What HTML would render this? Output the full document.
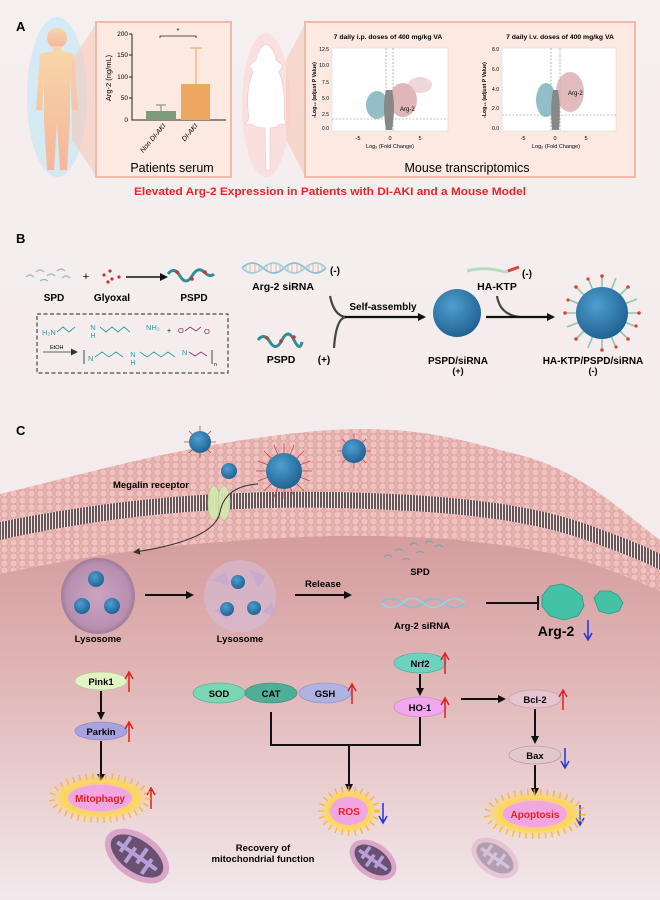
<!DOCTYPE html>
<html><head><meta charset="utf-8"><style>
html,body{margin:0;padding:0;background:#f6eeee}
svg{display:block}
text{font-family:"Liberation Sans",sans-serif}
.b{font-weight:bold}
</style></head><body>
<svg width="660" height="900" viewBox="0 0 660 900" xmlns="http://www.w3.org/2000/svg">
<defs>
<linearGradient id="bg" x1="0" y1="0" x2="0" y2="1">
<stop offset="0" stop-color="#f6efef"/><stop offset="1" stop-color="#f3eaea"/></linearGradient>
<linearGradient id="cell" x1="0" y1="0" x2="0" y2="1">
<stop offset="0" stop-color="#d49a9c"/><stop offset="0.45" stop-color="#e2b9ba"/><stop offset="1" stop-color="#f2e9ec"/></linearGradient>
<pattern id="heads" width="9" height="7" patternUnits="userSpaceOnUse">
<rect width="9" height="7" fill="#e6b1ae"/><circle cx="4.5" cy="3.5" r="3.6" fill="#f0c3c0" stroke="#d39c99" stroke-width="0.6"/></pattern>
<pattern id="tails" width="3" height="10" patternUnits="userSpaceOnUse">
<rect width="3" height="10" fill="#5a4a4c"/><line x1="1.5" y1="0" x2="1.5" y2="10" stroke="#f4eeee" stroke-width="1"/></pattern>
<radialGradient id="np" cx="0.4" cy="0.35" r="0.7"><stop offset="0" stop-color="#4f9fcf"/><stop offset="1" stop-color="#1d5f8f"/></radialGradient>
<radialGradient id="lys" cx="0.5" cy="0.5" r="0.5"><stop offset="0" stop-color="#c8a4c4"/><stop offset="0.85" stop-color="#b58cb2"/><stop offset="1" stop-color="#9a7898"/></radialGradient>
<radialGradient id="burst" cx="0.5" cy="0.5" r="0.5"><stop offset="0" stop-color="#f2a0d8"/><stop offset="0.55" stop-color="#f5b6dc"/><stop offset="0.75" stop-color="#ffd94a"/><stop offset="1" stop-color="#ffd94a" stop-opacity="0"/></radialGradient>
<radialGradient id="glowH" cx="0.5" cy="0.5" r="0.5"><stop offset="0.6" stop-color="#9fd8f0"/><stop offset="1" stop-color="#9fd8f0" stop-opacity="0"/></radialGradient>
<linearGradient id="body" x1="0" y1="0" x2="0" y2="1"><stop offset="0" stop-color="#f7d6a8"/><stop offset="1" stop-color="#f6b59c"/></linearGradient>
<marker id="ah" markerWidth="8" markerHeight="8" refX="6" refY="4" orient="auto" markerUnits="userSpaceOnUse"><path d="M0,0 L8,4 L0,8 z" fill="#111"/></marker>
<marker id="ahs" markerWidth="7" markerHeight="7" refX="5" refY="3.5" orient="auto" markerUnits="userSpaceOnUse"><path d="M0,0 L7,3.5 L0,7 z" fill="#333"/></marker>
</defs>
<rect width="660" height="900" fill="url(#bg)"/>

<!-- ============ A ============ -->
<text x="16" y="31" class="b" font-size="13">A</text>
<!-- human -->
<g>
<ellipse cx="57" cy="97" rx="30" ry="80" fill="#bfe6f6" opacity="0.6"/>
<circle cx="57" cy="38" r="10" fill="url(#body)"/>
<rect x="53" y="46" width="8" height="6" fill="#f7d3a8"/>
<path d="M40,54 Q57,48 74,54 L78,110 L72,110 L70,78 L70,120 L67,170 L60,170 L57,122 L54,170 L47,170 L44,120 L44,78 L42,110 L36,110 Z" fill="url(#body)"/>
</g>
<!-- zoom wedge -->
<path d="M72,60 L96,24 L96,176 L72,140 Z" fill="#f6c5b4" opacity="0.55"/>
<!-- panel 1 -->
<rect x="96" y="22" width="135" height="155" fill="#fbe9e2" stroke="#f4b8a6" stroke-width="2"/>
<text x="0" y="0" font-size="7.5" transform="translate(111,78) rotate(-90)" text-anchor="middle">Arg-2 (ng/mL)</text>
<g font-size="6.5" text-anchor="end">
<text x="128" y="36">200</text><text x="128" y="57">150</text><text x="128" y="79">100</text><text x="128" y="100">50</text><text x="128" y="122">0</text></g>
<path d="M132,34 L132,120 L226,120 M129,34 H132 M129,55 H132 M129,77 H132 M129,98 H132" stroke="#222" fill="none" stroke-width="1"/>
<path d="M161,111 V105 M156,105 H166" stroke="#8a9a80" stroke-width="1.2" fill="none"/>
<rect x="146" y="111" width="30" height="9" fill="#7d9a79"/>
<path d="M196,84 V48 M190,48 H202" stroke="#f0b070" stroke-width="1.2" fill="none"/>
<rect x="181" y="84" width="29" height="36" fill="#eba85e"/>
<path d="M160,38 V36 H196 V38" stroke="#222" fill="none" stroke-width="0.8"/>
<text x="178" y="33" font-size="7" text-anchor="middle">*</text>
<text font-size="7" transform="translate(166,126) rotate(-50)" text-anchor="end" font-style="italic">Non DI-AKI</text>
<text font-size="7" transform="translate(198,126) rotate(-50)" text-anchor="end" font-style="italic">DI-AKI</text>
<text x="172" y="172" font-size="12.5" text-anchor="middle">Patients serum</text>
<!-- mouse -->
<ellipse cx="266" cy="105" rx="24" ry="72" fill="#ffd0d0" opacity="0.5"/>
<path d="M266,44 Q274,48 276,60 L283,66 L279,72 Q286,90 284,118 L286,124 L280,124 Q276,128 270,128 L270,170 L266,170 L265,128 Q256,128 252,124 L246,124 L249,118 Q245,90 253,72 L249,66 L256,60 Q258,48 266,44 Z" fill="#fff" stroke="#e8c8c8" stroke-width="0.6"/>
<path d="M286,60 L305,24 L305,176 L286,140 Z" fill="#f6c5b4" opacity="0.55"/>
<!-- panel 2 -->
<rect x="305" y="22" width="330" height="155" fill="#fbe9e2" stroke="#f4b8a6" stroke-width="2"/>
<text x="388" y="39" font-size="6.8" class="b" text-anchor="middle">7 daily i.p. doses of 400 mg/kg VA</text>
<text x="560" y="39" font-size="6.8" class="b" text-anchor="middle">7 daily i.v. doses of 400 mg/kg VA</text>
<!-- plot 1 -->
<rect x="332" y="48" width="116" height="83" fill="#fff" stroke="#ddd" stroke-width="0.6"/>
<path d="M386,48 V131 M393,48 V131 M332,119 H448" stroke="#888" stroke-dasharray="2,1.5" stroke-width="0.6"/>
<ellipse cx="377" cy="105" rx="11" ry="14" fill="#7fb4bd" opacity="0.85"/>
<ellipse cx="403" cy="100" rx="14" ry="17" fill="#d8a4a6" opacity="0.8"/>
<ellipse cx="420" cy="85" rx="12" ry="8" fill="#e4bcbc" opacity="0.6"/>
<path d="M386,130 Q382,105 386,90 L392,90 Q396,105 392,130 Z" fill="#888"/>
<text x="400" y="111" font-size="6">Arg-2</text>
<g font-size="5" text-anchor="end"><text x="329" y="51">12.5</text><text x="329" y="67">10.0</text><text x="329" y="84">7.5</text><text x="329" y="100">5.0</text><text x="329" y="116">2.5</text><text x="329" y="130">0.0</text></g>
<text font-size="5.2" class="b" transform="translate(316,90) rotate(-90)" text-anchor="middle">-Log₁₀ (adjust P Value)</text>
<g font-size="5.5" text-anchor="middle"><text x="358" y="140">-5</text><text x="390" y="140">0</text><text x="420" y="140">5</text></g>
<text x="390" y="148" font-size="5.5" text-anchor="middle">Log₂ (Fold Change)</text>
<!-- plot 2 -->
<rect x="502" y="48" width="114" height="83" fill="#fff" stroke="#ddd" stroke-width="0.6"/>
<path d="M551,48 V131 M560,48 V131 M502,115 H616" stroke="#888" stroke-dasharray="2,1.5" stroke-width="0.6"/>
<ellipse cx="546" cy="100" rx="10" ry="17" fill="#7fb4bd" opacity="0.85"/>
<ellipse cx="570" cy="92" rx="14" ry="20" fill="#d8a4a6" opacity="0.75"/>
<path d="M552,130 Q550,105 553,90 L558,90 Q561,105 559,130 Z" fill="#888"/>
<text x="568" y="95" font-size="6">Arg-2</text>
<g font-size="5" text-anchor="end"><text x="499" y="51">8.0</text><text x="499" y="71">6.0</text><text x="499" y="91">4.0</text><text x="499" y="110">2.0</text><text x="499" y="130">0.0</text></g>
<text font-size="5.2" class="b" transform="translate(486,90) rotate(-90)" text-anchor="middle">-Log₁₀ (adjust P Value)</text>
<g font-size="5.5" text-anchor="middle"><text x="523" y="140">-5</text><text x="555" y="140">0</text><text x="586" y="140">5</text></g>
<text x="556" y="148" font-size="5.5" text-anchor="middle">Log₂ (Fold Change)</text>
<text x="467" y="172" font-size="12.5" text-anchor="middle">Mouse transcriptomics</text>
<text x="330" y="195" font-size="11" class="b" fill="#e3262a" text-anchor="middle" textLength="392" lengthAdjust="spacingAndGlyphs">Elevated Arg-2 Expression in Patients with DI-AKI and a Mouse Model</text>

<!-- ============ B ============ -->
<text x="16" y="243" class="b" font-size="13">B</text>
<g stroke="#9fb8be" stroke-width="1.2" fill="none">
<path d="M26,277 q4,-4 8,0 M36,272 q4,-4 8,0 M47,276 q4,-4 8,0 M57,271 q4,-4 8,0 M62,278 q4,-4 8,0 M40,281 q4,-3 8,0"/></g>
<text x="86" y="280" font-size="11" text-anchor="middle">+</text>
<g fill="#d0302c"><circle cx="104" cy="275" r="1.6"/><circle cx="110" cy="271" r="1.6"/><circle cx="112" cy="279" r="1.6"/><circle cx="119" cy="277" r="1.6"/><circle cx="108" cy="282" r="1.6"/></g>
<line x1="126" y1="277" x2="166" y2="277" stroke="#111" stroke-width="1.5" marker-end="url(#ah)"/>
<path d="M168,274 q6,-8 12,2 t12,0 t12,-4 t10,2" stroke="#2f8d94" stroke-width="3" fill="none"/>
<g fill="#d0302c"><circle cx="177" cy="272" r="1.8"/><circle cx="192" cy="279" r="1.8"/><circle cx="205" cy="272" r="1.8"/></g>
<g font-size="10" class="b" text-anchor="middle"><text x="54" y="301">SPD</text><text x="112" y="301">Glyoxal</text><text x="194" y="301">PSPD</text></g>
<rect x="37" y="314" width="191" height="59" fill="none" stroke="#222" stroke-dasharray="4,2.5" stroke-width="1"/>
<text x="42" y="335" font-size="7.5" fill="#2a9da0">H₂N</text>
<path d="M57,332 l6,-5 l6,5 l6,-5 M100,327 l6,5 l6,-5 l6,5 l6,-5 l6,5" stroke="#2a9da0" stroke-width="0.9" fill="none"/>
<text x="93" y="330" font-size="7.5" fill="#2a9da0" text-anchor="middle">N</text>
<text x="93" y="338" font-size="7" fill="#2a9da0" text-anchor="middle">H</text>
<text x="146" y="330" font-size="7.5" fill="#2a9da0">NH₂</text>
<text x="167" y="333" font-size="7">+</text>
<text x="178" y="333" font-size="7.5" fill="#8a3060">O</text>
<path d="M185,331 l5,-4 l6,4 l5,-4" stroke="#8a3060" stroke-width="0.9" fill="none"/>
<text x="204" y="334" font-size="7.5" fill="#8a3060">O</text>
<text x="50" y="349" font-size="5.5">EtOH</text>
<line x1="43" y1="352" x2="76" y2="352" stroke="#333" stroke-width="0.8" marker-end="url(#ahs)"/>
<path d="M84,350 V364" stroke="#333" stroke-width="0.9"/>
<text x="88" y="361" font-size="7.5" fill="#2a9da0">N</text>
<path d="M95,357 l7,-5 l7,5 l7,-5 l7,5 M140,352 l7,5 l7,-5 l7,5 l7,-5 l7,5" stroke="#2a9da0" stroke-width="0.9" fill="none"/>
<text x="133" y="357" font-size="7.5" fill="#2a9da0" text-anchor="middle">N</text>
<text x="133" y="365" font-size="7" fill="#2a9da0" text-anchor="middle">H</text>
<text x="182" y="355" font-size="7.5" fill="#2a9da0">N</text>
<path d="M189,352 l6,4 l6,-4 l6,4" stroke="#8a3060" stroke-width="0.9" fill="none"/>
<path d="M212,350 V364" stroke="#333" stroke-width="0.9"/>
<text x="214" y="366" font-size="5">n</text>
<!-- siRNA -->
<g fill="none" stroke-width="1.6">
<path d="M242,268 q10,-10 21,0 t21,0 t21,0 t21,0" stroke="#7fc3d6"/>
<path d="M242,268 q10,10 21,0 t21,0 t21,0 t21,0" stroke="#9ad2e0"/></g>
<g stroke="#d9a9a0" stroke-width="0.8"><path d="M246,265 v6 M250,263 v10 M255,263 v10 M259,265 v6 M267,265 v6 M271,263 v10 M276,263 v10 M280,265 v6 M288,265 v6 M292,263 v10 M297,263 v10 M301,265 v6 M309,265 v6 M313,263 v10 M318,263 v10 M322,265 v6"/></g>
<text x="335" y="274" font-size="10" class="b" text-anchor="middle">(-)</text>
<text x="283" y="290" font-size="10.5" class="b" text-anchor="middle">Arg-2 siRNA</text>
<path d="M258,340 q6,-8 12,2 t12,-2 t12,0 t8,2" stroke="#2f8d94" stroke-width="3" fill="none"/>
<g fill="#d0302c"><circle cx="267" cy="338" r="1.8"/><circle cx="281" cy="341" r="1.8"/><circle cx="294" cy="337" r="1.8"/></g>
<text x="281" y="363" font-size="10.5" class="b" text-anchor="middle">PSPD</text>
<text x="324" y="363" font-size="10" class="b" text-anchor="middle">(+)</text>
<path d="M330,296 Q334,316 346,317 M334,348 Q336,318 346,317" stroke="#444" stroke-width="2.2" fill="none"/>
<line x1="345" y1="317" x2="424" y2="317" stroke="#111" stroke-width="2.2" marker-end="url(#ah)"/>
<text x="383" y="310" font-size="10" class="b" text-anchor="middle">Self-assembly</text>
<circle cx="457" cy="313" r="24" fill="url(#np)"/>
<text x="458" y="364" font-size="10" class="b" text-anchor="middle">PSPD/siRNA</text>
<text x="458" y="374" font-size="9" class="b" text-anchor="middle">(+)</text>
<path d="M467,271 Q485,266 505,272 L518,268" stroke="#b5dcc0" stroke-width="3" fill="none"/>
<path d="M508,271 L519,267" stroke="#e0403a" stroke-width="3"/>
<text x="527" y="277" font-size="10" class="b" text-anchor="middle">(-)</text>
<text x="497" y="290" font-size="10.5" class="b" text-anchor="middle">HA-KTP</text>
<path d="M497,296 Q500,315 520,317" stroke="#444" stroke-width="2.2" fill="none"/>
<line x1="486" y1="317" x2="553" y2="317" stroke="#111" stroke-width="2.2" marker-end="url(#ah)"/>
<g stroke="#8cc7a8" stroke-width="1.6">
<path d="M602,313 l0,-38 M602,313 l0,38 M602,313 l-38,0 M602,313 l38,0 M602,313 l-27,-27 M602,313 l27,-27 M602,313 l-27,27 M602,313 l27,27 M602,313 l-14,-35 M602,313 l14,-35 M602,313 l-14,35 M602,313 l14,35 M602,313 l-35,-14 M602,313 l35,-14 M602,313 l-35,14 M602,313 l35,14"/></g>
<g fill="#e0403a"><circle cx="602" cy="276" r="1.8"/><circle cx="602" cy="350" r="1.8"/><circle cx="565" cy="313" r="1.8"/><circle cx="639" cy="313" r="1.8"/><circle cx="576" cy="287" r="1.8"/><circle cx="628" cy="287" r="1.8"/><circle cx="576" cy="339" r="1.8"/><circle cx="628" cy="339" r="1.8"/><circle cx="588" cy="279" r="1.6"/><circle cx="616" cy="347" r="1.6"/><circle cx="568" cy="300" r="1.6"/><circle cx="636" cy="326" r="1.6"/></g>
<circle cx="602" cy="313" r="26" fill="url(#np)"/>
<text x="593" y="364" font-size="10" class="b" text-anchor="middle">HA-KTP/PSPD/siRNA</text>
<text x="593" y="374" font-size="9" class="b" text-anchor="middle">(-)</text>

<!-- ============ C ============ -->
<text x="16" y="435" class="b" font-size="13">C</text>
<!-- cell interior -->
<path d="M0,560 C100,540 200,528 330,524 C440,522 520,533 580,548 C620,560 645,572 660,580 L660,900 L0,900 Z" fill="url(#cell)"/>
<!-- membrane -->
<path d="M0,494 C100,470 200,440 330,430 C420,425 460,440 520,455 C580,470 620,510 660,540 L660,591 C645,585 620,572 580,560 C520,545 440,534 330,536 C200,540 100,552 0,574 Z" fill="url(#heads)"/>
<path d="M0,522 C100,502 200,490 330,492 C440,494 520,502 580,522 C620,536 645,546 660,554 L660,570 C645,562 620,552 580,538 C520,518 440,510 330,508 C200,506 100,518 0,540 Z" fill="url(#tails)" opacity="0.9"/>
<path d="M0,540 C100,518 200,506 330,508 C440,510 520,518 580,538 C620,552 645,562 660,570 L660,591 C645,585 620,572 580,560 C520,545 440,534 330,536 C200,540 100,552 0,574 Z" fill="url(#heads)" opacity="0.95"/>
<!-- nanoparticles on membrane -->
<g stroke="#c9404a" stroke-width="0.8">
<path d="M200,442 m-16,0 h32 M200,442 m0,-16 v32 M200,442 m-11,-11 l22,22 M200,442 m11,-11 l-22,22"/>
<path d="M354,451 m-17,0 h34 M354,451 m0,-17 v34 M354,451 m-12,-12 l24,24 M354,451 m12,-12 l-24,24"/>
<path d="M284,471 m-28,0 h56 M284,471 m0,-28 v56 M284,471 m-20,-20 l40,40 M284,471 m20,-20 l-40,40 M284,471 m-10,-26 l20,52 M284,471 m10,-26 l-20,52 M284,471 m-26,-10 l52,20 M284,471 m26,-10 l-52,20"/></g>
<circle cx="200" cy="442" r="11" fill="url(#np)"/>
<circle cx="229" cy="471" r="8" fill="url(#np)"/>
<circle cx="354" cy="451" r="12" fill="url(#np)"/>
<circle cx="284" cy="471" r="18" fill="url(#np)"/>
<!-- megalin -->
<ellipse cx="214" cy="503" rx="6" ry="17" fill="#d5e8b0" stroke="#a9c98a" stroke-width="0.6" opacity="0.95"/>
<ellipse cx="224" cy="503" rx="6" ry="17" fill="#d5e8b0" stroke="#a9c98a" stroke-width="0.6" opacity="0.95"/>
<text x="151" y="488" font-size="9.5" class="b" text-anchor="middle">Megalin receptor</text>
<path d="M258,484 Q225,486 220,512 Q215,540 135,552" stroke="#333" stroke-width="1" fill="none" marker-end="url(#ahs)"/>
<!-- lysosomes -->
<ellipse cx="98" cy="596" rx="37" ry="38" fill="url(#lys)" opacity="0.9"/>
<g><circle cx="96" cy="579" r="8" fill="url(#np)"/><circle cx="82" cy="606" r="8" fill="url(#np)"/><circle cx="112" cy="606" r="8" fill="url(#np)"/></g>
<text x="98" y="642" font-size="9.5" class="b" text-anchor="middle">Lysosome</text>
<line x1="145" y1="595" x2="192" y2="595" stroke="#111" stroke-width="2" marker-end="url(#ah)"/>
<ellipse cx="240" cy="596" rx="36" ry="36" fill="#d6c0dc" opacity="0.55"/>
<g fill="#c5a8d4" opacity="0.8"><path d="M212,580 l14,-8 l4,14 z"/><path d="M250,570 l16,6 l-8,12 z"/><path d="M214,610 l12,-4 l2,14 z"/><path d="M262,612 l10,-10 l4,14 z"/></g>
<g><circle cx="238" cy="582" r="7" fill="url(#np)"/><circle cx="227" cy="609" r="7" fill="url(#np)"/><circle cx="254" cy="608" r="7" fill="url(#np)"/></g>
<text x="240" y="642" font-size="9.5" class="b" text-anchor="middle">Lysosome</text>
<line x1="295" y1="595" x2="350" y2="595" stroke="#111" stroke-width="2" marker-end="url(#ah)"/>
<text x="323" y="587" font-size="9.5" class="b" text-anchor="middle">Release</text>
<g stroke="#7aa6ac" stroke-width="1.2" fill="none">
<path d="M384,557 q4,-4 8,0 M395,551 q4,-4 8,0 M410,545 q4,-4 8,0 M425,543 q4,-4 8,0 M435,547 q4,-4 8,0 M416,553 q4,-3 8,0 M402,560 q4,-3 8,0"/></g>
<text x="420" y="575" font-size="9.5" class="b" text-anchor="middle">SPD</text>
<g fill="none" stroke-width="1.6">
<path d="M381,603 q10,-9 21,0 t21,0 t21,0 t21,0" stroke="#7fc3d6"/>
<path d="M381,603 q10,9 21,0 t21,0 t21,0 t21,0" stroke="#9ad2e0"/></g>
<text x="422" y="629" font-size="9.5" class="b" text-anchor="middle">Arg-2 siRNA</text>
<path d="M486,603 H538 M538,596 V610" stroke="#111" stroke-width="2" fill="none"/>
<path d="M542,596 l8,-10 l12,-2 l10,4 l10,8 l2,10 l-6,10 l-14,4 l-14,-4 l-8,-10 z" fill="#43c2a5" stroke="#2a9a82" stroke-width="0.8"/>
<path d="M594,598 l6,-7 l10,0 l8,4 l5,8 l-4,8 l-10,3 l-10,-3 z" fill="#43c2a5" stroke="#2a9a82" stroke-width="0.8"/>
<text x="556" y="636" font-size="14" class="b" text-anchor="middle">Arg-2</text>
<path d="M588,620 V638 M584,633 L588,640 L592,633" stroke="#2233dd" stroke-width="1.5" fill="none"/>

<!-- nodes -->
<g font-size="9.5" class="b" text-anchor="middle">
<ellipse cx="101" cy="681" rx="26" ry="9" fill="#e2f3c4" stroke="#a6c48a" stroke-width="0.6"/><text x="101" y="685">Pink1</text>
<ellipse cx="101" cy="731" rx="26" ry="9" fill="#a8a3de" stroke="#7f7ac0" stroke-width="0.6"/><text x="101" y="735">Parkin</text>
<ellipse cx="219" cy="693" rx="26" ry="10" fill="#7bd6b6" stroke="#55a98a" stroke-width="0.6"/><text x="219" y="697">SOD</text>
<ellipse cx="271" cy="693" rx="26" ry="10" fill="#4fae98" stroke="#3a8a78" stroke-width="0.6"/><text x="271" y="697">CAT</text>
<ellipse cx="325" cy="693" rx="26" ry="10" fill="#b0b2e2" stroke="#8c8ec8" stroke-width="0.6"/><text x="325" y="697">GSH</text>
<ellipse cx="420" cy="663" rx="26" ry="10" fill="#6fd1c0" stroke="#4ea898" stroke-width="0.6"/><text x="420" y="667">Nrf2</text>
<ellipse cx="420" cy="707" rx="26" ry="10" fill="#f2a8ee" stroke="#c880c8" stroke-width="0.6"/><text x="420" y="711">HO-1</text>
<ellipse cx="535" cy="699" rx="26" ry="9" fill="#e6c4d0" stroke="#b898a8" stroke-width="0.6"/><text x="535" y="703">Bcl-2</text>
<ellipse cx="535" cy="755" rx="26" ry="9" fill="#e0c8cc" stroke="#a8909a" stroke-width="0.6"/><text x="535" y="759">Bax</text>
</g>
<g stroke="#e02020" stroke-width="1.5" fill="none">
<path d="M129,692 V674 M125,679 L129,672 L133,679"/>
<path d="M129,742 V724 M125,729 L129,722 L133,729"/>
<path d="M151,809 V790 M147,795 L151,788 L155,795"/>
<path d="M352,704 V686 M348,691 L352,684 L356,691"/>
<path d="M445,674 V655 M441,660 L445,653 L449,660"/>
<path d="M445,718 V700 M441,705 L445,698 L449,705"/>
<path d="M563,710 V692 M559,697 L563,690 L567,697"/></g>
<g stroke="#2233dd" stroke-width="1.5" fill="none">
<path d="M565,748 V766 M561,761 L565,768 L569,761"/>
<path d="M383,803 V821 M379,816 L383,823 L387,816"/>
<path d="M580,805 V823 M576,818 L580,825 L584,818"/></g>
<g stroke="#111" stroke-width="2" fill="none">
<line x1="101" y1="691" x2="101" y2="718" marker-end="url(#ah)"/>
<line x1="101" y1="741" x2="101" y2="780" marker-end="url(#ah)"/>
<line x1="420" y1="674" x2="420" y2="694" marker-end="url(#ah)"/>
<line x1="461" y1="699" x2="504" y2="699" marker-end="url(#ah)"/>
<line x1="535" y1="709" x2="535" y2="742" marker-end="url(#ah)"/>
<line x1="535" y1="765" x2="535" y2="794" marker-end="url(#ah)"/>
<path d="M271,712 V745 H420 V717"/>
<line x1="349" y1="745" x2="349" y2="790" marker-end="url(#ah)"/>
</g>
<!-- bursts -->
<g>
<ellipse cx="100" cy="798" rx="48" ry="22" fill="url(#burst)"/>
<ellipse cx="100" cy="798" rx="48" ry="22" fill="none" stroke="#ffb020" stroke-width="6" stroke-dasharray="1.5,5" opacity="0.8"/>
<ellipse cx="100" cy="798" rx="32" ry="13" fill="#f0a6e0"/>
<text x="100" y="802" font-size="10" class="b" fill="#ee1c24" text-anchor="middle">Mitophagy</text>
<ellipse cx="349" cy="811" rx="28" ry="22" fill="url(#burst)"/>
<ellipse cx="349" cy="811" rx="28" ry="22" fill="none" stroke="#ffb020" stroke-width="6" stroke-dasharray="1.5,5" opacity="0.8"/>
<ellipse cx="349" cy="811" rx="19" ry="14" fill="#f0a6e0"/>
<text x="349" y="815" font-size="10" class="b" fill="#ee1c24" text-anchor="middle">ROS</text>
<ellipse cx="535" cy="814" rx="48" ry="22" fill="url(#burst)"/>
<ellipse cx="535" cy="814" rx="48" ry="22" fill="none" stroke="#ffb020" stroke-width="6" stroke-dasharray="1.5,5" opacity="0.8"/>
<ellipse cx="535" cy="814" rx="32" ry="13" fill="#f0a6e0"/>
<text x="535" y="818" font-size="10" class="b" fill="#ee1c24" text-anchor="middle">Apoptosis</text>
</g>
<!-- mitochondria -->
<g transform="translate(137,856) rotate(35)">
<ellipse rx="36" ry="22" fill="#d9a6c8"/><ellipse rx="30" ry="16" fill="#6a5070"/>
<path d="M-24,0 h48 M-16,-12 v18 M-6,12 v-18 M4,-12 v18 M14,12 v-18" stroke="#b6a0d8" stroke-width="4"/></g>
<g transform="translate(373,860) rotate(35)">
<ellipse rx="26" ry="17" fill="#d9a6c8"/><ellipse rx="21" ry="12" fill="#6a5070"/>
<path d="M-17,0 h34 M-10,-9 v14 M-2,9 v-14 M6,-9 v14" stroke="#b6a0d8" stroke-width="3.5"/></g>
<g transform="translate(495,858) rotate(35)" opacity="0.45">
<ellipse rx="26" ry="17" fill="#d9a6c8"/><ellipse rx="21" ry="12" fill="#6a5070"/>
<path d="M-17,0 h34 M-10,-9 v14 M-2,9 v-14 M6,-9 v14" stroke="#b6a0d8" stroke-width="3.5"/></g>
<text x="263" y="851" font-size="9.5" class="b" text-anchor="middle">Recovery of</text>
<text x="263" y="862" font-size="9.5" class="b" text-anchor="middle">mitochondrial function</text>
</svg>
</body></html>
